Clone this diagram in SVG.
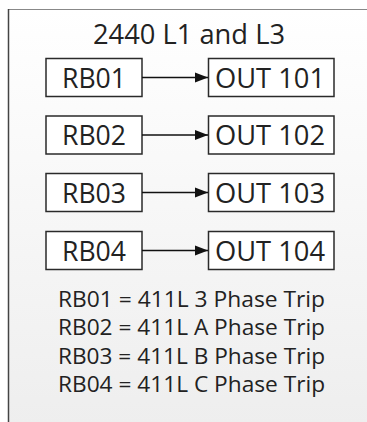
<svg xmlns="http://www.w3.org/2000/svg" width="367" height="422" viewBox="0 0 367 422">
  <defs>
    <linearGradient id="bg" x1="0" y1="0" x2="0" y2="1">
      <stop offset="0" stop-color="#ffffff"/>
      <stop offset="1" stop-color="#eeeeee"/>
    </linearGradient>
    <marker id="arr" markerWidth="14" markerHeight="12" refX="13" refY="6" orient="auto" markerUnits="userSpaceOnUse">
      <path d="M0,1 L13,6 L0,11 Z" fill="#111"/>
    </marker>
    <style>
      .box { fill: #ffffff; stroke: #2a2a2a; stroke-width: 1.5; }
      .lbl { font-family: "Open Sans", "Liberation Sans", sans-serif; font-size: 27.5px; fill: #222; text-anchor: middle; }
      .note { font-family: "Open Sans", "Liberation Sans", sans-serif; font-size: 21.5px; fill: #222; text-anchor: middle; }
      .conn { stroke: #111; stroke-width: 1.3; fill: none; }
    </style>
  </defs>
  <rect x="0" y="0" width="367" height="422" fill="#ffffff"/>
  <rect x="8.5" y="10" width="360" height="415" fill="url(#bg)"/>
  <line x1="8" y1="9.5" x2="367" y2="9.5" stroke="#888" stroke-width="1"/>
  <line x1="8.5" y1="9" x2="8.5" y2="422" stroke="#444" stroke-width="1.5"/>

  <text x="189" y="43.5" class="lbl" textLength="192" lengthAdjust="spacingAndGlyphs">2440 L1 and L3</text>

  <g id="rb01"><rect class="box" x="46" y="58.5" width="96" height="38"/><text class="lbl" x="94" y="87.5" textLength="64" lengthAdjust="spacingAndGlyphs">RB01</text></g>
  <g id="out101"><rect class="box" x="208.5" y="58.5" width="125.5" height="38"/><text class="lbl" x="270" y="87.5" textLength="110" lengthAdjust="spacingAndGlyphs">OUT 101</text></g>
  <g id="rb02"><rect class="box" x="46" y="116" width="96" height="38"/><text class="lbl" x="94" y="145" textLength="64" lengthAdjust="spacingAndGlyphs">RB02</text></g>
  <g id="out102"><rect class="box" x="208.5" y="116" width="125.5" height="38"/><text class="lbl" x="270" y="145" textLength="110" lengthAdjust="spacingAndGlyphs">OUT 102</text></g>
  <g id="rb03"><rect class="box" x="46" y="173.5" width="96" height="38"/><text class="lbl" x="94" y="202.5" textLength="64" lengthAdjust="spacingAndGlyphs">RB03</text></g>
  <g id="out103"><rect class="box" x="208.5" y="173.5" width="125.5" height="38"/><text class="lbl" x="270" y="202.5" textLength="110" lengthAdjust="spacingAndGlyphs">OUT 103</text></g>
  <g id="rb04"><rect class="box" x="46" y="231.5" width="96" height="38"/><text class="lbl" x="94" y="260.5" textLength="64" lengthAdjust="spacingAndGlyphs">RB04</text></g>
  <g id="out104"><rect class="box" x="208.5" y="231.5" width="125.5" height="38"/><text class="lbl" x="270" y="260.5" textLength="110" lengthAdjust="spacingAndGlyphs">OUT 104</text></g>

  <g id="connectors">
    <line class="conn" x1="142" y1="77.5" x2="208" y2="77.5" marker-end="url(#arr)"/>
    <line class="conn" x1="142" y1="135" x2="208" y2="135" marker-end="url(#arr)"/>
    <line class="conn" x1="142" y1="192.5" x2="208" y2="192.5" marker-end="url(#arr)"/>
    <line class="conn" x1="142" y1="250.5" x2="208" y2="250.5" marker-end="url(#arr)"/>
  </g>

  <g id="legend">
    <text class="note" x="191.5" y="306.5" textLength="267" lengthAdjust="spacingAndGlyphs">RB01 = 411L 3 Phase Trip</text>
    <text class="note" x="191.5" y="335" textLength="267" lengthAdjust="spacingAndGlyphs">RB02 = 411L A Phase Trip</text>
    <text class="note" x="191.5" y="363.5" textLength="267" lengthAdjust="spacingAndGlyphs">RB03 = 411L B Phase Trip</text>
    <text class="note" x="191.5" y="392" textLength="267" lengthAdjust="spacingAndGlyphs">RB04 = 411L C Phase Trip</text>
  </g>
</svg>
